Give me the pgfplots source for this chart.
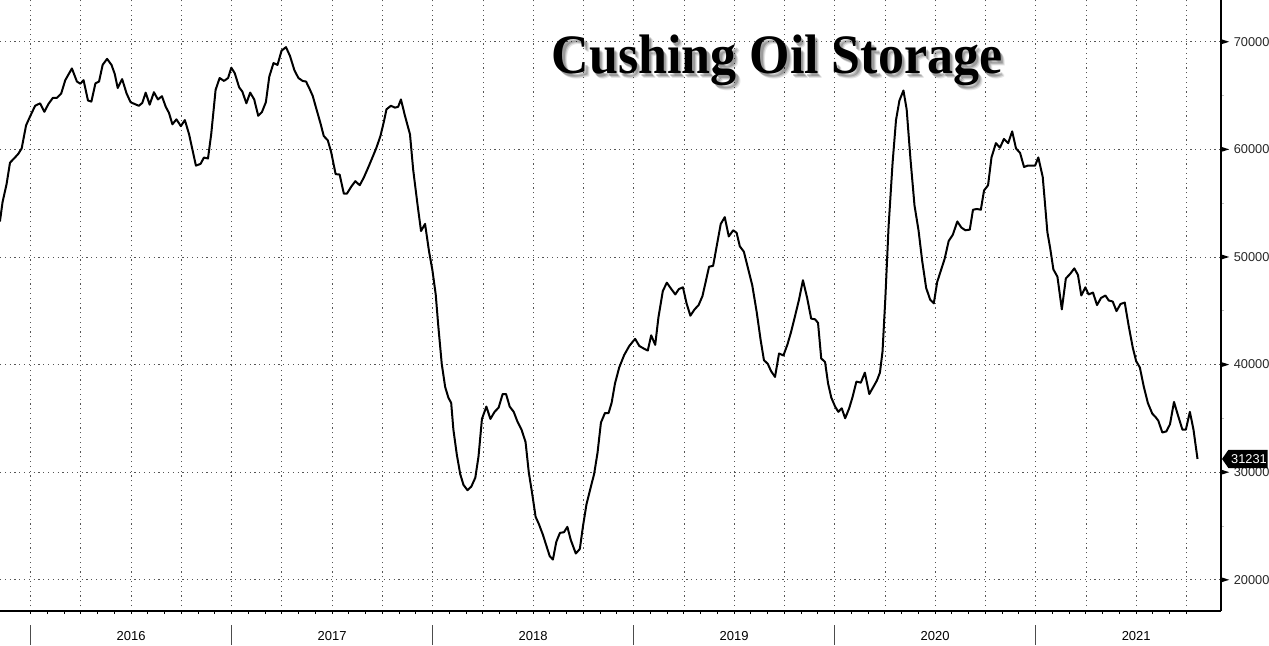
\documentclass[border=0pt]{standalone}
\usepackage{fontspec}
\setmainfont{Liberation Sans}
\newfontfamily\titlefont{Liberation Serif}
\usepackage{pgfplots}
\pgfplotsset{compat=1.18}
\definecolor{gridc}{HTML}{555555}

% x = years since 2015; axis box is 610.5pt x 305.5pt at the origin
\begin{document}
\begin{tikzpicture}
\begin{axis}[
  at={(0,0)}, anchor=south west,
  scale only axis, width=610.5pt, height=305.5pt,
  xmin=0.8473, xmax=6.9219, ymin=17100, ymax=73880,
  axis x line*=bottom, axis y line*=right,
  axis line style={line width=0.6pt},
  clip=false,
  xtick={1,1.25,1.5,1.75,2,2.25,2.5,2.75,3,3.25,3.5,3.75,4,4.25,4.5,4.75,5,5.25,5.5,5.75,6,6.25,6.5,6.75},
  xticklabels={},
  minor x tick num=2,
  tick align=outside,
  major tick length=1.6pt, minor tick length=1.6pt,
  every tick/.style={black, line width=0.5pt},
  ytick={20000,30000,40000,50000,60000,70000},
  minor ytick={25000,35000,45000,55000,65000},
  every major y tick/.style={draw=none},
  every minor y tick/.style={gray!50, line width=0.4pt},
  xmajorgrids, ymajorgrids,
  major grid style={gridc, line width=0.45pt, dash pattern=on 0.6pt off 1.8pt},
  scaled y ticks=false,
  yticklabel style={font=\fontsize{6.4}{7}\selectfont, text=black!85, anchor=west, inner sep=0pt, xshift=4.6pt,
    /pgf/number format/assume math mode=true,
    /pgf/number format/set thousands separator={}},
]
\addplot[black, line width=1pt, line join=round] coordinates {
(0.847,53300) (0.860,55100) (0.880,56770) (0.897,58760) (0.922,59250) (0.938,59580)
(0.955,60080) (0.977,62230) (0.997,63060) (1.022,64050) (1.047,64280) (1.068,63490)
(1.088,64210) (1.110,64780) (1.130,64780) (1.152,65200) (1.172,66430) (1.205,67520)
(1.230,66300) (1.247,66100) (1.263,66430) (1.285,64540) (1.302,64440) (1.322,66130)
(1.340,66300) (1.358,67850) (1.380,68410) (1.402,67850) (1.418,67020) (1.433,65700)
(1.455,66530) (1.477,65200) (1.497,64380) (1.518,64210) (1.538,64050) (1.555,64310)
(1.572,65270) (1.592,64150) (1.613,65310) (1.633,64640) (1.653,64940) (1.672,63950)
(1.688,63390) (1.705,62330) (1.725,62790) (1.747,62160) (1.767,62720) (1.788,61400)
(1.822,58490)
(1.845,58650) (1.862,59240) (1.882,59150) (1.898,61400) (1.920,65540) (1.940,66630)
(1.962,66360) (1.982,66630) (1.998,67590) (2.015,67090) (2.037,65770) (2.053,65370)
(2.073,64280) (2.092,65270) (2.112,64640) (2.132,63120) (2.150,63450) (2.170,64380)
(2.187,66760) (2.208,68020) (2.228,67850) (2.248,69170) (2.270,69500) (2.290,68680)
(2.312,67350) (2.332,66630) (2.353,66360) (2.370,66300) (2.387,65640) (2.403,64970)
(2.423,63650) (2.442,62400) (2.458,61240) (2.478,60840) (2.495,59740) (2.517,57700)
(2.537,57660) (2.558,55880) (2.573,55880) (2.595,56540) (2.615,57040) (2.637,56670)
(2.657,57370) (2.678,58260) (2.698,59150) (2.720,60150) (2.740,61240) (2.757,62560)
(2.770,63720) (2.792,64050) (2.812,63880) (2.828,63950) (2.842,64640)
(2.862,63120) (2.887,61400) (2.903,58090) (2.925,54790) (2.942,52410) (2.962,53070)
(2.982,50490) (2.998,48840) (3.015,46520) (3.028,43550) (3.045,40070) (3.062,37920)
(3.078,36930) (3.092,36430) (3.103,33950) (3.120,31630) (3.137,29820) (3.153,28830)
(3.173,28330) (3.192,28660) (3.212,29490) (3.228,31470) (3.245,34950) (3.267,36100)
(3.287,34950) (3.308,35610) (3.328,36000) (3.348,37260) (3.365,37260) (3.383,36100)
(3.403,35610) (3.420,34780) (3.442,33950) (3.462,32800) (3.478,29990) (3.495,28000)
(3.512,25850) (3.528,25190) (3.548,24200) (3.565,23200) (3.582,22210) (3.598,21880)
(3.615,23530) (3.633,24360) (3.653,24420) (3.670,24920) (3.687,23700) (3.712,22440)
(3.732,22870) (3.748,25020) (3.765,27010) (3.787,28660) (3.803,29820)
(3.820,31800) (3.837,34610) (3.857,35500) (3.875,35500) (3.890,36430) (3.907,38250)
(3.928,39740) (3.953,40900) (3.978,41730) (4.007,42390) (4.028,41730) (4.050,41490)
(4.070,41300) (4.087,42720) (4.107,41830) (4.123,44380) (4.145,46850) (4.165,47610)
(4.187,47020) (4.207,46520) (4.225,47020) (4.245,47180) (4.263,45690) (4.282,44540)
(4.303,45130) (4.323,45530) (4.342,46360) (4.358,47680) (4.375,49100) (4.395,49170)
(4.415,51220) (4.433,53070) (4.453,53700) (4.473,51910) (4.495,52480) (4.512,52250)
(4.528,50990) (4.548,50490) (4.570,48840) (4.590,47350) (4.612,44870) (4.632,42220)
(4.648,40410) (4.667,40070) (4.683,39410) (4.703,38850) (4.723,41030) (4.745,40850)
(4.765,41880) (4.783,43030) (4.803,44540)
(4.822,46000) (4.842,47840) (4.863,46190) (4.883,44270) (4.902,44210) (4.917,43880)
(4.933,40570) (4.952,40240) (4.967,38250) (4.983,36930) (5.002,36100) (5.018,35610)
(5.035,35940) (5.052,35010) (5.072,35940) (5.088,36930) (5.108,38420) (5.130,38320)
(5.150,39250) (5.172,37260) (5.192,37920) (5.210,38520) (5.225,39250) (5.238,41230)
(5.252,46190) (5.268,52810) (5.288,58760) (5.305,62720) (5.322,64540) (5.342,65470)
(5.358,63720) (5.377,59090) (5.397,54790) (5.417,52480) (5.435,49670) (5.455,47120)
(5.475,46030) (5.493,45690) (5.510,47680) (5.527,48670) (5.547,49830) (5.567,51480)
(5.588,52080) (5.610,53300) (5.630,52740) (5.650,52480) (5.672,52540) (5.688,54390)
(5.708,54460) (5.727,54390) (5.743,56180) (5.763,56670) (5.780,59250) (5.802,60580)
(5.822,60150) (5.842,60970) (5.863,60580) (5.883,61670) (5.902,60080) (5.922,59680)
(5.942,58360) (5.960,58490) (5.980,58490) (5.997,58490) (6.013,59250) (6.035,57430)
(6.047,54790) (6.058,52310) (6.072,50820) (6.088,48840) (6.108,48170) (6.130,45130)
(6.150,48010) (6.172,48440) (6.192,48940) (6.210,48340) (6.227,46420) (6.247,47180)
(6.263,46520) (6.285,46690) (6.305,45530) (6.325,46190) (6.347,46420) (6.363,45960)
(6.383,45860) (6.402,44970) (6.422,45630) (6.443,45760) (6.463,43550) (6.483,41570)
(6.500,40310) (6.518,39740) (6.538,37920) (6.558,36430) (6.580,35440) (6.597,35110)
(6.610,34780) (6.630,33690) (6.650,33790) (6.668,34450) (6.688,36530) (6.708,35270)
(6.730,33950) (6.747,33950) (6.767,35610) (6.785,33950) (6.805,31231)
};
\node[font=\fontsize{6.5}{7}\selectfont, yshift=-12.5pt] at (axis cs:1.5,17100) {2016};
\node[font=\fontsize{6.5}{7}\selectfont, yshift=-12.5pt] at (axis cs:2.5,17100) {2017};
\node[font=\fontsize{6.5}{7}\selectfont, yshift=-12.5pt] at (axis cs:3.5,17100) {2018};
\node[font=\fontsize{6.5}{7}\selectfont, yshift=-12.5pt] at (axis cs:4.5,17100) {2019};
\node[font=\fontsize{6.5}{7}\selectfont, yshift=-12.5pt] at (axis cs:5.5,17100) {2020};
\node[font=\fontsize{6.5}{7}\selectfont, yshift=-12.5pt] at (axis cs:6.5,17100) {2021};
\end{axis}
% right-axis tick triangles (20000 ... 70000)
\foreach \yy in {15.603,69.407,123.211,177.015,230.819,284.623}
  \fill[black] (610.5pt,\yy pt-1.3pt) -- (614.6pt,\yy pt) -- (610.5pt,\yy pt+1.3pt) -- cycle;
% year separators
\foreach \xx in {15.346,115.846,216.346,316.846,417.346,517.846}
  \draw[black!70, line width=0.5pt] (\xx pt,-7pt) -- (\xx pt,-17pt);
% last value box (31231)
\fill[black] (611pt,76.031pt) -- (614.2pt,80.6pt) -- (633.8pt,80.6pt)
  -- (633.8pt,71.46pt) -- (614.2pt,71.46pt) -- cycle;
\node[text=white, font=\fontsize{6.4}{7}\selectfont, anchor=west, inner sep=0pt]
  at (615.4pt,76.031pt) {31231};
% title with soft shadow
\foreach \dx/\dy/\op in {2.2/-2.6/0.1, 1.7/-2.1/0.15, 1.2/-1.5/0.2} {
  \node[anchor=base, opacity=\op, font=\titlefont\bfseries\fontsize{26}{28}\selectfont, yscale=1.07]
    at ([shift={(\dx pt,\dy pt)}]388.5pt,269pt) {Cushing Oil Storage};
}
\node[anchor=base, font=\titlefont\bfseries\fontsize{26}{28}\selectfont, yscale=1.07]
  at (388.5pt,269pt) {Cushing Oil Storage};
\pgfresetboundingbox
\path (0,-17pt) rectangle (634.5pt,305.5pt);
\end{tikzpicture}
\end{document}
